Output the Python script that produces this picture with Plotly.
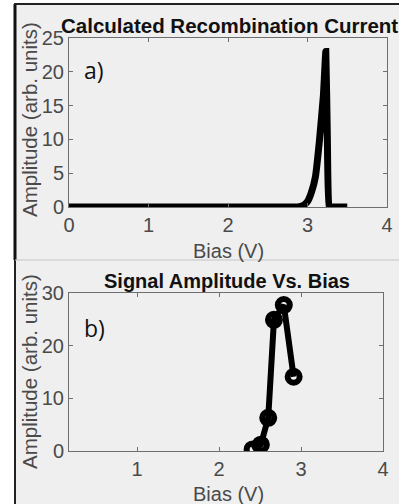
import plotly.graph_objects as go

# ---- data ----
bias_calc = [0.0, 0.5, 1.0, 1.5, 2.0, 2.5, 2.8, 2.9, 2.95, 3.0, 3.05, 3.1, 3.15, 3.2, 3.23, 3.25, 3.27, 3.3, 3.4, 3.5]
amp_calc = [0.0, 0.0, 0.0, 0.0, 0.0, 0.0, 0.0, 0.05, 0.25, 0.8, 2.2, 4.5, 9.8, 16.5, 23.0, 10.0, 0.0, 0.0, 0.0, 0.0]

bias_meas = [2.41, 2.51, 2.60, 2.67, 2.79, 2.91]
amp_meas = [0.3, 1.2, 6.3, 24.9, 27.7, 14.1]

x_ticks = [0, 1, 2, 3, 4]
y_ticks_a = [0, 5, 10, 15, 20, 25]
y_ticks_b = [0, 10, 20, 30]

W, H = 399, 504
def px(x):
    return x / W
def py(y):
    return 1 - y / H

FONT = "Liberation Sans, Arial"
tick_font = dict(family=FONT, size=20, color="#4a4a4a")
axis_common = dict(showgrid=False, zeroline=False, showline=True, mirror="ticks",
                   linecolor="#6e6e6e", linewidth=1, ticks="inside", ticklen=4,
                   tickcolor="#6e6e6e", tickfont=tick_font, automargin=False)

fig = go.Figure()
fig.add_trace(go.Scatter(x=bias_calc, y=amp_calc, mode="lines",
                         line=dict(color="black", width=7, shape="spline", smoothing=0.3),
                         xaxis="x", yaxis="y", showlegend=False))
fig.add_trace(go.Scatter(x=bias_meas, y=amp_meas, mode="lines+markers",
                         line=dict(color="black", width=6),
                         marker=dict(symbol="circle-open", size=12, color="black",
                                     line=dict(width=6, color="black")),
                         xaxis="x2", yaxis="y2", showlegend=False))

fig.update_layout(
    width=W, height=H,
    margin=dict(l=0, r=0, t=0, b=0),
    paper_bgcolor="white",
    plot_bgcolor="white",
    xaxis=dict(domain=[px(69), px(387)], range=[0, 4], tickvals=x_ticks,
               anchor="y", **axis_common),
    yaxis=dict(domain=[py(207), py(38)], range=[0, 25], tickvals=y_ticks_a,
               anchor="x", **axis_common),
    xaxis2=dict(domain=[px(69), px(383)], range=[0.17, 4], tickvals=x_ticks,
                anchor="y2", **axis_common),
    yaxis2=dict(domain=[py(451), py(293)], range=[0, 30], tickvals=y_ticks_b,
                anchor="x2", **axis_common),
    shapes=[
        dict(type="rect", xref="paper", yref="paper", x0=px(15), x1=1, y0=0, y1=py(4),
             fillcolor="#efefef", line=dict(width=0), layer="below"),
        dict(type="line", xref="paper", yref="paper", x0=px(15), x1=px(15), y0=py(260), y1=py(4),
             line=dict(color="#111111", width=3)),
        dict(type="line", xref="paper", yref="paper", x0=px(15), x1=px(15), y0=0, y1=py(260),
             line=dict(color="#222222", width=2)),
        dict(type="line", xref="paper", yref="paper", x0=px(14), x1=1, y0=py(4), y1=py(4),
             line=dict(color="#222222", width=2)),
        dict(type="line", xref="paper", yref="paper", x0=px(15), x1=1, y0=py(260), y1=py(260),
             line=dict(color="#c4c4c4", width=1)),
    ],
    annotations=[
        dict(text="<b>Calculated Recombination Current</b>", x=px(229), y=py(25),
             xref="paper", yref="paper", showarrow=False, xanchor="center", yanchor="middle",
             font=dict(family=FONT, size=20.5, color="#111111")),
        dict(text="<b>Signal Amplitude Vs. Bias</b>", x=px(227), y=py(281),
             xref="paper", yref="paper", showarrow=False, xanchor="center", yanchor="middle",
             font=dict(family=FONT, size=20, color="#111111")),
        dict(text="Amplitude (arb. units)", x=px(29), y=py(120), textangle=-90,
             xref="paper", yref="paper", showarrow=False, xanchor="center", yanchor="middle",
             font=dict(family=FONT, size=20.5, color="#4a4a4a")),
        dict(text="Amplitude (arb. units)", x=px(29), y=py(372), textangle=-90,
             xref="paper", yref="paper", showarrow=False, xanchor="center", yanchor="middle",
             font=dict(family=FONT, size=20.5, color="#4a4a4a")),
        dict(text="Bias (V)", x=px(228), y=py(251),
             xref="paper", yref="paper", showarrow=False, xanchor="center", yanchor="middle",
             font=dict(family=FONT, size=20, color="#4a4a4a")),
        dict(text="Bias (V)", x=px(228), y=py(494),
             xref="paper", yref="paper", showarrow=False, xanchor="center", yanchor="middle",
             font=dict(family=FONT, size=20, color="#4a4a4a")),
        dict(text="a)", x=px(82), y=py(70),
             xref="paper", yref="paper", showarrow=False, xanchor="left", yanchor="middle",
             font=dict(family="Open Sans", size=23, color="#111111")),
        dict(text="b)", x=px(82), y=py(328),
             xref="paper", yref="paper", showarrow=False, xanchor="left", yanchor="middle",
             font=dict(family="Open Sans", size=23, color="#111111")),
    ],
)

fig.write_html("out.html",
               config={"displayModeBar": False},
               post_script="document.body.style.margin='0';document.body.style.overflow='hidden';")
